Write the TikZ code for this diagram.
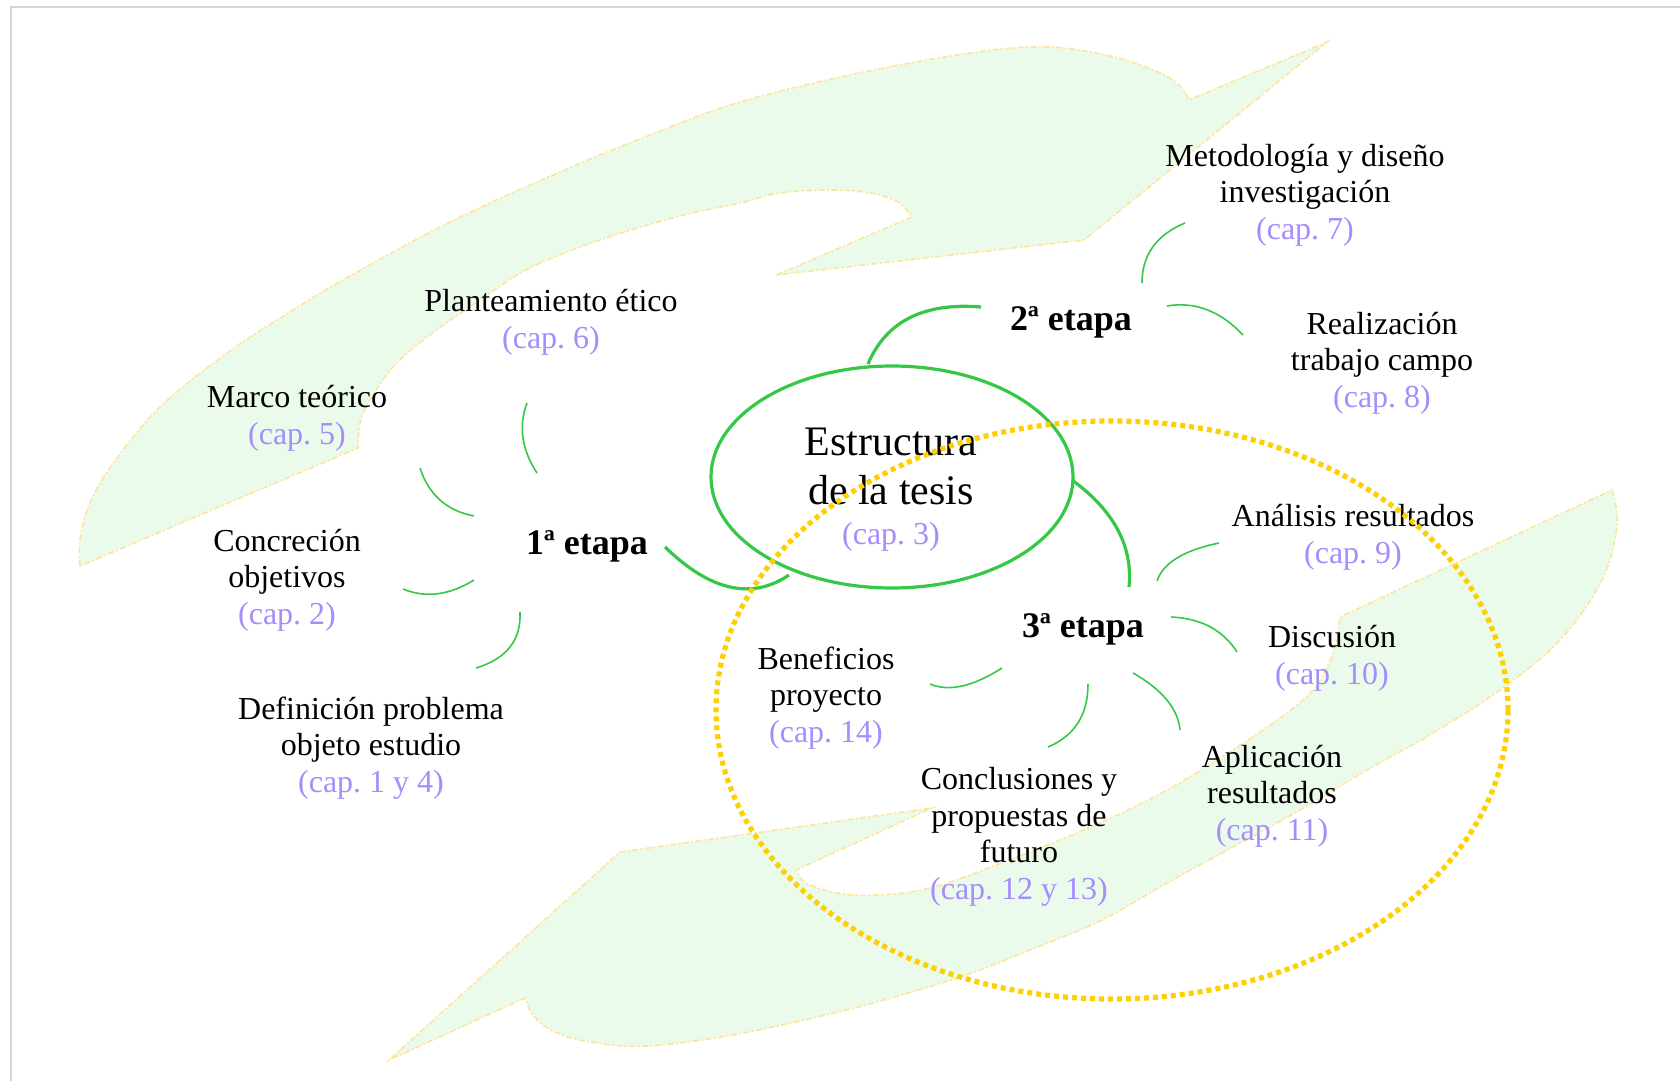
\documentclass[tikz,border=0pt]{standalone}
\usepackage{fontspec}
\setmainfont{Liberation Serif}
\usetikzlibrary{shapes.geometric}
\definecolor{grn}{RGB}{52,200,70}
\definecolor{capc}{RGB}{166,140,252}
\definecolor{ylw}{RGB}{255,208,0}
\definecolor{leaf}{RGB}{235,251,235}
\definecolor{leafedge}{RGB}{255,228,155}
\definecolor{framec}{RGB}{212,212,212}
\newcommand\capx[1]{\textcolor{capc}{#1}}
\frenchspacing
\begin{document}
\begin{tikzpicture}[x=0.5pt,y=-0.5pt,
  lbl/.style={align=center,inner sep=0pt,font=\fontsize{16}{18.3}\selectfont},
  etapa/.style={inner sep=0pt,anchor=base,font=\bfseries\fontsize{18}{21}\selectfont},
  thinarc/.style={grn,line width=0.8pt},
  thickarc/.style={grn,line width=1.6pt},
  leafshape/.style={fill=leaf,draw=leafedge,line width=0.8pt,dash pattern=on 3pt off 1.2pt on 1pt off 1.2pt}]
\fill[white] (0,0) rectangle (1680,1081);
\useasboundingbox (0,0) rectangle (1680,1081);
\draw[framec,line width=1pt] (11,1081) -- (11,7) -- (1680,7);

% leaves
\path[leafshape] plot[smooth,tension=0.6] coordinates {(80,566) (80,540) (89,505) (112,465) (160,407) (227,353) (293,310) (343,280) (450,222) (560,172) (650,135) (740,102) (859,73) (977,52) (1048,47) (1110,56) (1158,72) (1180,86) (1189,100)}
  -- (1327,42) -- (1084,240) -- (776,275) -- (912,217)
  -- plot[smooth,tension=0.6] coordinates {(912,217) (898,202) (870,193) (831,190) (780,193) (740,203) (680,216) (600,240) (530,268) (480,300) (427,337) (393,367) (370,400) (360,423) (358,448)} -- cycle;
\path[leafshape] plot[smooth,tension=0.6] coordinates {(1612,490) (1617,525) (1602,580) (1560,640) (1500,690) (1433,733) (1367,770) (1300,810) (1233,847) (1167,883) (1100,921) (1030,950) (960,977) (858,1007) (743,1033) (647,1046) (585,1041) (551,1030) (533,1015) (525,998)}
  -- (389,1060) -- (620,852) -- (932,808) -- (796,870)
  -- plot[smooth,tension=0.6] coordinates {(796,870) (806,883) (838,893) (877,895) (934,887) (1017,857) (1100,823) (1167,790) (1217,760) (1273,723) (1313,690) (1333,653) (1340,617)} -- cycle;

% core
\node[draw=grn,line width=1.6pt,ellipse,minimum width=181pt,minimum height=111pt,inner sep=0pt] (core) at (892,477) {};
\node[align=center,inner sep=0pt,font=\fontsize{21}{24.5}\selectfont] (coretxt) at (891,490) {Estructura\\de la tesis\\[-4.6pt]{\fontsize{16}{18}\selectfont\capx{(cap. 3)}}};

% labels
\node[lbl] (plan) at (551,322) {Planteamiento ético\\\capx{(cap. 6)}};
\node[lbl] (marco) at (297,418) {Marco teórico\\\capx{(cap. 5)}};
\node[lbl] (concr) at (287,580) {Concreción\\objetivos\\\capx{(cap. 2)}};
\node[lbl] (defin) at (371,748) {Definición problema\\objeto estudio\\\capx{(cap. 1 y 4)}};
\node[lbl] (metod) at (1305,195) {Metodología y diseño\\investigación\\\capx{(cap. 7)}};
\node[lbl] (realiz) at (1382,363) {Realización\\trabajo campo\\\capx{(cap. 8)}};
\node[lbl] (anal) at (1353,537) {Análisis resultados\\\capx{(cap. 9)}};
\node[lbl] (disc) at (1332,658) {Discusión\\\capx{(cap. 10)}};
\node[lbl] (aplic) at (1272,796) {Aplicación\\resultados\\\capx{(cap. 11)}};
\node[lbl] (concl) at (1019,837) {Conclusiones y\\propuestas de\\futuro\\\capx{(cap. 12 y 13)}};
\node[lbl] (benef) at (826,698) {Beneficios\\proyecto\\\capx{(cap. 14)}};
\node[etapa] (e1) at (587,554) {1ª etapa};
\node[etapa] (e2) at (1071,330) {2ª etapa};
\node[etapa] (e3) at (1083,637) {3ª etapa};

% arc end points
\coordinate (p1a) at (527,403); \coordinate (p1b) at (537,473);
\coordinate (p2a) at (420,468); \coordinate (p2b) at (474,516);
\coordinate (p3a) at (403,589); \coordinate (p3b) at (474,580);
\coordinate (p4a) at (520,612); \coordinate (p4b) at (476,668);
\coordinate (t1a) at (665,547); \coordinate (t1b) at (789,575);
\coordinate (t2a) at (868,364); \coordinate (t2b) at (981,307);
\coordinate (t3a) at (1072,480); \coordinate (t3b) at (1129,587);
\coordinate (q1a) at (1142,283); \coordinate (q1b) at (1185,223);
\coordinate (q2a) at (1167,306); \coordinate (q2b) at (1243,335);
\coordinate (r1a) at (1157,581); \coordinate (r1b) at (1219,543);
\coordinate (r2a) at (1171,617); \coordinate (r2b) at (1237,652);
\coordinate (r3a) at (1133,673); \coordinate (r3b) at (1180,730);
\coordinate (r4a) at (1088,684); \coordinate (r4b) at (1048,747);
\coordinate (r5a) at (1002,668); \coordinate (r5b) at (930,684);

\draw[thinarc] (p1a) .. controls (518.3,426.3) and (521.7,449.7) .. (p1b);
\draw[thinarc] (p2a) .. controls (428.7,494.7) and (446.7,510.7) .. (p2b);
\draw[thinarc] (p3a) .. controls (425.7,598.3) and (449.3,595.3) .. (p3b);
\draw[thinarc] (p4a) .. controls (521.3,640) and (506.7,658.7) .. (p4b);
\draw[thickarc] (t1a) .. controls (710.3,591) and (751.7,600.3) .. (t1b);
\draw[thickarc] (t2a) .. controls (886,321.3) and (923.7,302.3) .. (t2b);
\draw[thickarc] (t3a) .. controls (1114,510.7) and (1133,546.3) .. (t3b);
\draw[thinarc] (q1a) .. controls (1142,255) and (1156.3,235) .. (q1b);
\draw[thinarc] (q2a) .. controls (1195,301.3) and (1220.3,311) .. (q2b);
\draw[thinarc] (r1a) .. controls (1163,563) and (1183.7,550.3) .. (r1b);
\draw[thinarc] (r2a) .. controls (1201,618.3) and (1223,630) .. (r2b);
\draw[thinarc] (r3a) .. controls (1162.3,689.7) and (1178,708.7) .. (r3b);
\draw[thinarc] (r4a) .. controls (1088,714.7) and (1074.7,735.7) .. (r4b);
\draw[thinarc] (r5a) .. controls (972.7,686.7) and (948.7,692) .. (r5b);

% dotted ring
\draw[ylw,line width=2.6pt,dash pattern=on 2.5pt off 2pt] (1112,710) ellipse [x radius=198pt,y radius=144.5pt];
\end{tikzpicture}
\end{document}
